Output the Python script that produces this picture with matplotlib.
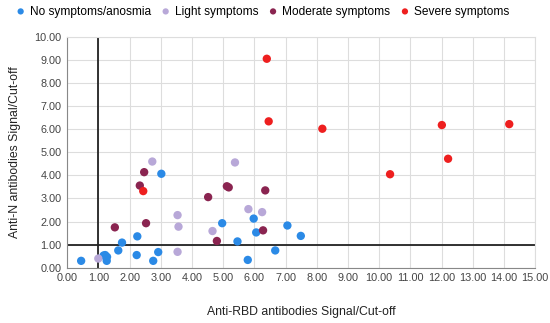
import numpy as np
from matplotlib import pyplot as plt

plt.rcParams['font.family'] = ['Liberation Sans', 'DejaVu Sans']

# Anti-RBD (x) vs Anti-N (y), signal/cut-off
none_x = [0.45, 1.17, 1.22, 1.28, 1.27, 1.64, 1.76, 2.23, 2.25, 2.76, 2.92, 3.02,
          4.97, 5.46, 5.79, 5.98, 6.06, 6.67, 7.06, 7.49]
none_y = [0.30, 0.53, 0.55, 0.47, 0.30, 0.75, 1.09, 0.55, 1.36, 0.30, 0.68, 4.07,
          1.93, 1.14, 0.34, 2.13, 1.53, 0.75, 1.83, 1.38]

light_x = [1.00, 2.73, 3.54, 3.57, 3.54, 4.66, 5.38, 5.81, 6.25]
light_y = [0.40, 4.60, 2.28, 1.78, 0.69, 1.59, 4.56, 2.54, 2.41]

moderate_x = [1.53, 2.33, 2.47, 2.53, 4.52, 4.80, 5.12, 5.18, 6.28, 6.35]
moderate_y = [1.75, 3.56, 4.14, 1.93, 3.06, 1.16, 3.53, 3.48, 1.62, 3.35]

severe_x = [2.44, 6.40, 6.46, 8.18, 10.35, 12.01, 12.21, 14.17]
severe_y = [3.32, 9.05, 6.34, 6.02, 4.05, 6.18, 4.72, 6.22]

cutoff = 1.0

fig = plt.figure(figsize=(5.5, 3.23), dpi=100)
ax = fig.add_axes([0.122, 0.171, 0.851, 0.715])

groups = [
    (none_x, none_y, '#2b8ae6', 'No symptoms/anosmia'),
    (light_x, light_y, '#b8a8d8', 'Light symptoms'),
    (moderate_x, moderate_y, '#8a2450', 'Moderate symptoms'),
    (severe_x, severe_y, '#ee1f1f', 'Severe symptoms'),
]
for gx, gy, col, lab in groups:
    ax.scatter(gx, gy, s=36, color=col, edgecolors='none', label=lab, zorder=3)

ax.axvline(cutoff, color='#222222', lw=1.3, zorder=2)
ax.axhline(cutoff, color='#222222', lw=1.3, zorder=2)

ax.set_xlim(0, 15)
ax.set_ylim(0, 10)
ax.set_xticks(np.arange(0, 16, 1))
ax.set_yticks(np.arange(0, 11, 1))
ax.set_xticklabels(['%.2f' % v for v in np.arange(0, 16, 1)])
ax.set_yticklabels(['%.2f' % v for v in np.arange(0, 11, 1)])
ax.tick_params(length=0, labelsize=7.8, colors='#444444', pad=4)
ax.grid(True, color='#dddddd', lw=0.8, zorder=0)
ax.set_axisbelow(True)
for s in ['top', 'right']:
    ax.spines[s].set_color('#dddddd')
for s in ['left', 'bottom']:
    ax.spines[s].set_color('#888888')

ax.set_xlabel('Anti-RBD antibodies Signal/Cut-off', fontsize=8.8, color='#222222', labelpad=16)
ax.set_ylabel('Anti-N antibodies Signal/Cut-off', fontsize=8.8, color='#222222', labelpad=10)

fig.legend(loc='upper left', bbox_to_anchor=(0.018, 1.005), ncol=4, frameon=False,
           fontsize=8.6, handlelength=0.6, handletextpad=0.45, columnspacing=0.95,
           markerscale=0.75, borderaxespad=0.2)

fig.savefig('out.png', dpi=100)
